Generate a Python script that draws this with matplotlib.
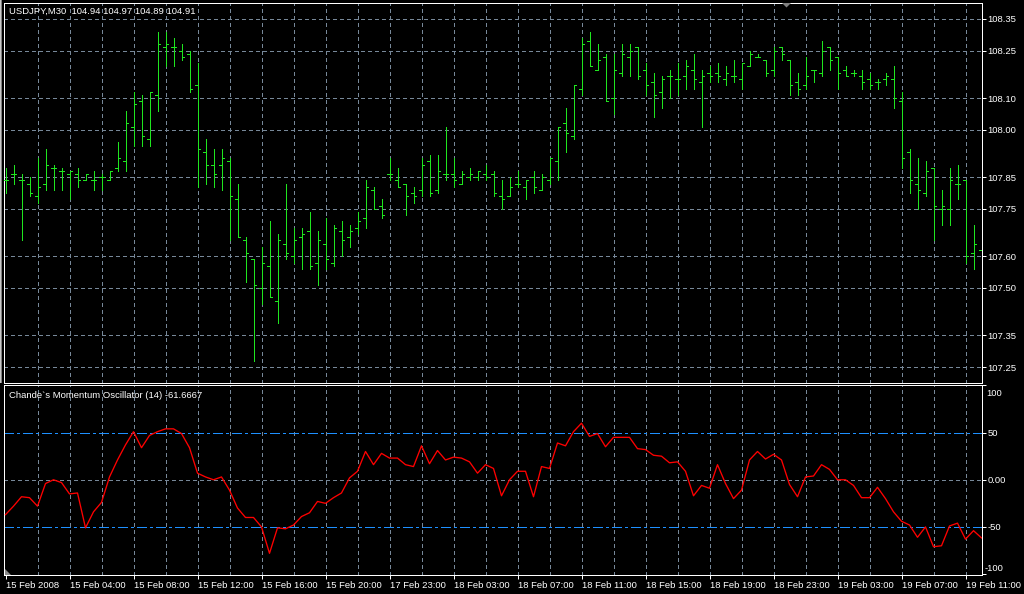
import matplotlib
matplotlib.use("Agg")
import matplotlib.pyplot as plt
import numpy as np
from matplotlib.patches import Polygon, Rectangle

# ---------------- data ----------------
symbol_title = "USDJPY,M30  104.94 104.97 104.89 104.91"
indicator_title = "Chande`s Momentum Oscillator (14) -61.6667"

opens = [107.84, 107.86, 107.84, 107.83, 107.79, 107.83, 107.88, 107.87, 107.86, 107.86,
         107.84, 107.84, 107.85, 107.84, 107.88, 107.90, 108.01, 108.09, 107.97, 108.11,
         108.26, 108.26, 108.25, 108.24, 108.14, 107.93, 107.89, 107.89, 107.90, 107.78,
         107.65, 107.59, 107.50, 107.57, 107.46, 107.64, 107.60, 107.66, 107.68, 107.58,
         107.64, 107.58, 107.68, 107.66, 107.69, 107.72, 107.81, 107.76, 107.86, 107.84,
         107.83, 107.80, 107.81, 107.90, 107.81, 107.86, 107.86, 107.83, 107.85, 107.85,
         107.86, 107.86, 107.79, 107.79, 107.83, 107.82, 107.85, 107.81, 107.84, 107.90,
         108.02, 107.98, 108.13, 108.28, 108.19, 108.23, 108.10, 108.18, 108.23, 108.26,
         108.19, 108.15, 108.12, 108.17, 108.16, 108.17, 108.19, 108.15, 108.18, 108.18,
         108.16, 108.17, 108.16, 108.20, 108.23, 108.22, 108.19, 108.26, 108.22, 108.15,
         108.14, 108.19, 108.18, 108.26, 108.23, 108.19, 108.18, 108.17, 108.16, 108.15,
         108.16, 108.16, 108.09, 107.93, 107.83, 107.80, 107.88, 107.75, 107.75, 107.83,
         107.84, 107.61, 107.62]
highs = [107.88, 107.89, 107.86, 107.85, 107.91, 107.94, 107.89, 107.88, 107.87, 107.88,
         107.86, 107.87, 107.86, 107.87, 107.96, 108.06, 108.12, 108.11, 108.12, 108.31,
         108.31, 108.29, 108.27, 108.25, 108.21, 107.97, 107.94, 107.94, 107.91, 107.83,
         107.66, 107.59, 107.63, 107.71, 107.67, 107.83, 107.69, 107.69, 107.74, 107.68,
         107.72, 107.70, 107.71, 107.70, 107.74, 107.84, 107.82, 107.78, 107.91, 107.88,
         107.83, 107.82, 107.91, 107.92, 107.92, 108.01, 107.91, 107.87, 107.88, 107.87,
         107.89, 107.87, 107.84, 107.85, 107.87, 107.84, 107.87, 107.86, 107.91, 108.01,
         108.07, 108.14, 108.29, 108.31, 108.27, 108.24, 108.24, 108.27, 108.27, 108.26,
         108.21, 108.18, 108.17, 108.19, 108.21, 108.22, 108.24, 108.19, 108.20, 108.21,
         108.20, 108.22, 108.21, 108.25, 108.24, 108.22, 108.26, 108.26, 108.22, 108.18,
         108.23, 108.19, 108.28, 108.26, 108.23, 108.20, 108.19, 108.19, 108.18, 108.16,
         108.18, 108.20, 108.12, 107.94, 107.91, 107.90, 107.88, 107.81, 107.88, 107.89,
         107.84, 107.70, 107.67]
lows = [107.80, 107.83, 107.65, 107.79, 107.77, 107.81, 107.81, 107.81, 107.78, 107.82,
        107.84, 107.81, 107.81, 107.84, 107.87, 107.87, 107.95, 107.95, 107.95, 108.06,
        108.20, 108.20, 108.22, 108.12, 107.82, 107.83, 107.82, 107.81, 107.65, 107.66,
        107.52, 107.27, 107.45, 107.47, 107.39, 107.59, 107.58, 107.56, 107.56, 107.51,
        107.56, 107.57, 107.60, 107.63, 107.67, 107.69, 107.75, 107.72, 107.84, 107.82,
        107.73, 107.77, 107.79, 107.79, 107.80, 107.84, 107.82, 107.83, 107.84, 107.84,
        107.84, 107.79, 107.75, 107.79, 107.82, 107.78, 107.80, 107.81, 107.83, 107.84,
        107.93, 107.97, 108.11, 108.20, 108.19, 108.09, 108.05, 108.17, 108.17, 108.16,
        108.11, 108.04, 108.07, 108.10, 108.11, 108.13, 108.13, 108.01, 108.15, 108.15,
        108.14, 108.15, 108.13, 108.20, 108.23, 108.17, 108.17, 108.22, 108.11, 108.11,
        108.13, 108.15, 108.17, 108.19, 108.13, 108.17, 108.17, 108.13, 108.13, 108.13,
        108.14, 108.07, 107.88, 107.80, 107.75, 107.79, 107.65, 107.70, 107.70, 107.78,
        107.58, 107.56, 107.41]
closes = [107.84, 107.86, 107.84, 107.80, 107.82, 107.89, 107.88, 107.87, 107.87, 107.84,
          107.86, 107.84, 107.85, 107.87, 107.91, 108.02, 108.08, 107.98, 108.12, 108.27,
          108.27, 108.26, 108.23, 108.13, 107.94, 107.89, 107.86, 107.91, 107.79, 107.66,
          107.61, 107.51, 107.58, 107.47, 107.65, 107.61, 107.65, 107.67, 107.57, 107.65,
          107.59, 107.69, 107.65, 107.68, 107.71, 107.82, 107.75, 107.73, 107.86, 107.82,
          107.79, 107.79, 107.89, 107.80, 107.87, 107.86, 107.84, 107.86, 107.86, 107.87,
          107.85, 107.80, 107.78, 107.82, 107.83, 107.84, 107.82, 107.85, 107.91, 108.01,
          107.99, 108.14, 108.27, 108.20, 108.22, 108.09, 108.19, 108.24, 108.25, 108.17,
          108.14, 108.11, 108.16, 108.17, 108.16, 108.20, 108.16, 108.17, 108.17, 108.17,
          108.18, 108.17, 108.21, 108.24, 108.23, 108.18, 108.25, 108.24, 108.14, 108.13,
          108.17, 108.19, 108.25, 108.22, 108.18, 108.17, 108.18, 108.15, 108.14, 108.15,
          108.17, 108.10, 107.91, 107.84, 107.81, 107.87, 107.76, 107.76, 107.84, 107.83,
          107.60, 107.64, 107.62]
cmo = [-37, -28, -18, -19, -28, -4, 0, -3, -15, -14,
       -51, -34, -24, 3, 21, 37, 51, 34, 47, 51,
       54, 54, 49, 34, 7, 3, 0, 3, -11, -30,
       -40, -40, -50, -78, -51, -52, -48, -39, -35, -23,
       -25, -19, -14, 2, 9, 30, 16, 28, 23, 23,
       16, 14, 36, 17, 31, 21, 24, 23, 19, 7,
       16, 12, -17, 0, 9, 9, -18, 14, 12, 39,
       36, 51, 60, 46, 49, 35, 45, 45, 45, 33,
       32, 26, 25, 18, 19, 9, -17, -6, -9, 16,
       -4, -20, -11, 21, 30, 22, 27, 21, -5, -18,
       3, 4, 16, 11, 0, 0, -6, -19, -19, -8,
       -20, -34, -44, -48, -61, -50, -71, -70, -49, -46,
       -63, -54, -61.6667]

time_labels = ["15 Feb 2008", "15 Feb 04:00", "15 Feb 08:00", "15 Feb 12:00",
               "15 Feb 16:00", "15 Feb 20:00", "17 Feb 23:00", "18 Feb 03:00",
               "18 Feb 07:00", "18 Feb 11:00", "18 Feb 15:00", "18 Feb 19:00",
               "18 Feb 23:00", "19 Feb 03:00", "19 Feb 07:00", "19 Feb 11:00"]
price_ticks = [108.35, 108.25, 108.10, 108.00, 107.85, 107.75, 107.60, 107.50, 107.35, 107.25]
cmo_ticks = [100, 50, 0, -50, -100]
cmo_tick_labels = ["100", "50", "0.00", "-50", "-100"]
cmo_levels = [50, -50]

# ---------------- style ----------------
plt.rcParams["lines.scale_dashes"] = False
FONT = "Liberation Sans"
FS = 6.8
PX = 0.72  # one pixel in points at dpi 100
BAR_COLOR = "#1fe61f"
GRID_COLOR = "#778899"
LEVEL_COLOR = "#1e90ff"
W, H = 1024, 594

fig = plt.figure(figsize=(W / 100, H / 100), dpi=100, facecolor="black")


def fx(px):
    return px / W


def fy(py):
    return 1 - py / H


ax1 = fig.add_axes([fx(4), fy(382.5), fx(982) - fx(4), fy(2.5) - fy(382.5)])
ax2 = fig.add_axes([fx(4), fy(575), fx(982) - fx(4), fy(385) - fy(575)])

n = len(closes)
idx = np.arange(n)
xmin = -1.5 / 8
xmax = xmin + 978 / 8

grid_dash = (0, (2.2, 2.2))
for ax in (ax1, ax2):
    ax.set_facecolor("black")
    ax.set_xlim(xmin, xmax)
    for s in ax.spines.values():
        s.set_color("white")
        s.set_linewidth(PX)
    for k in range(4, n, 4):
        ax.axvline(k, color=GRID_COLOR, lw=PX, linestyle=grid_dash, antialiased=False, zorder=1)
    ax.yaxis.tick_right()
    ax.tick_params(axis="y", colors="white", length=3, width=PX, pad=0.8,
                   labelsize=FS, labelcolor="white")

# ---- main price panel ----
p_top = 108.35 + 16.5 / 316.4
p_bot = 108.35 - 363.5 / 316.4
ax1.set_ylim(p_bot, p_top)
for p in price_ticks:
    ax1.axhline(p, color=GRID_COLOR, lw=PX, linestyle=grid_dash, antialiased=False, zorder=1)
ax1.set_yticks(price_ticks)
ax1.set_yticklabels([f"{p:.2f}" for p in price_ticks], fontfamily=FONT, fontsize=FS, color="white")
ax1.set_xticks([])

ax1.vlines(idx, lows, highs, colors=BAR_COLOR, linewidth=PX, antialiased=False, zorder=3)
ax1.hlines(opens, idx - 0.3, idx, colors=BAR_COLOR, linewidth=PX, antialiased=False, zorder=3)
ax1.hlines(closes, idx, idx + 0.3, colors=BAR_COLOR, linewidth=PX, antialiased=False, zorder=3)

fig.text(fx(9), fy(11), symbol_title, color="white", fontsize=FS, fontfamily=FONT,
         ha="left", va="center")

# ---- indicator panel ----
ax2.set_ylim(-101, 100.5)
ax2.axhline(0, color=GRID_COLOR, lw=PX, linestyle=grid_dash, antialiased=False, zorder=1)
for lv in cmo_levels:
    ax2.axhline(lv, color=LEVEL_COLOR, lw=PX, linestyle=(0, (6.5, 2.2, 1.5, 2.2)),
                antialiased=False, zorder=2)
ax2.plot(idx, cmo, color="#ff0000", lw=0.95, antialiased=True, zorder=3)

ax2.set_yticks(cmo_ticks)
ax2.set_yticklabels(["", cmo_tick_labels[1], cmo_tick_labels[2], cmo_tick_labels[3], ""],
                    fontfamily=FONT, fontsize=FS, color="white")
fig.text(fx(986), fy(393), cmo_tick_labels[0], color="white", fontsize=FS,
         fontfamily=FONT, ha="left", va="center")
fig.text(fx(984.5), fy(568.5), cmo_tick_labels[4], color="white", fontsize=FS,
         fontfamily=FONT, ha="left", va="center")

ax2.set_xticks(idx[::8])
ax2.set_xticklabels(time_labels, fontfamily=FONT, fontsize=FS, color="white", ha="left")
ax2.tick_params(axis="x", colors="white", length=3, width=PX, pad=1.5, labelsize=FS)

fig.text(fx(9), fy(396), indicator_title, color="white", fontsize=FS, fontfamily=FONT,
         ha="left", va="center")

# decorations: window edge, shift marker and corner marker
fig.add_artist(Rectangle((0, fy(383)), fx(1.2), fy(0) - fy(383), facecolor="#c8c8c8",
                         edgecolor="none", transform=fig.transFigure))
fig.add_artist(Rectangle((fx(1.2), fy(383)), fx(1.2), fy(0) - fy(383), facecolor="#808080",
                         edgecolor="none", transform=fig.transFigure))
fig.add_artist(Polygon([(fx(782), fy(3)), (fx(791), fy(3)), (fx(786.5), fy(7.5))],
                       closed=True, facecolor="#808080", edgecolor="none",
                       transform=fig.transFigure))
fig.add_artist(Polygon([(fx(4.5), fy(569)), (fx(4.5), fy(575)), (fx(10.5), fy(575))],
                       closed=True, facecolor="#8a8a8a", edgecolor="none",
                       transform=fig.transFigure))

fig.savefig("out.png", dpi=100, facecolor="black")
